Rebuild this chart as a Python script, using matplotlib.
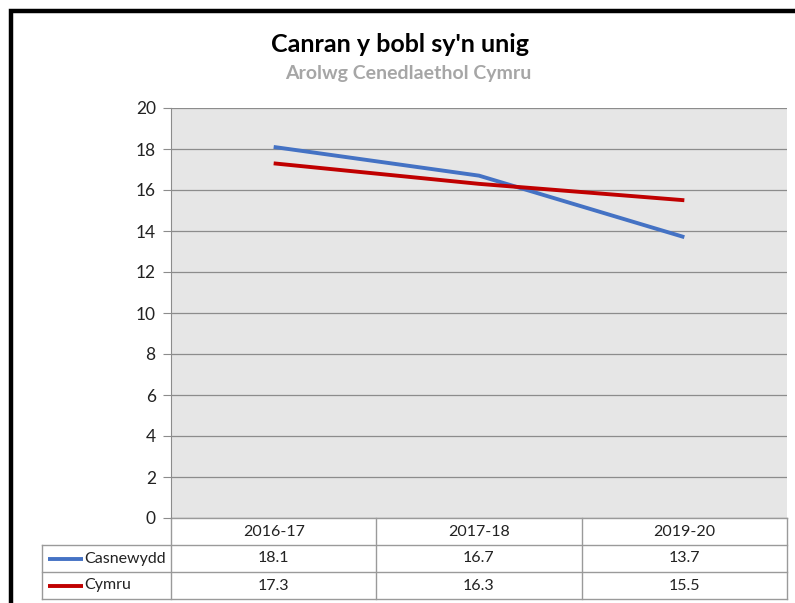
import matplotlib.pyplot as plt
from matplotlib.patches import Rectangle
from matplotlib.transforms import blended_transform_factory

plt.rcParams['font.family'] = ['Lato', 'DejaVu Sans']

years = ['2016-17', '2017-18', '2019-20']
casnewydd = [18.1, 16.7, 13.7]
cymru = [17.3, 16.3, 15.5]
series_names = ['Casnewydd', 'Cymru']
series_colors = ['#4472C4', '#C00000']

W, H = 795, 603
fig = plt.figure(figsize=(W / 100, H / 100), dpi=100)

# outer chart frame (runs off the right and bottom edges)
fig.patches.append(Rectangle((10.5 / W, -0.05), 1.1, 1 - 11.5 / H + 0.05,
                             transform=fig.transFigure, fill=False,
                             edgecolor='black', linewidth=3.2))

left, right, top, bottom = 171, 787, 108, 518
ax = fig.add_axes([left / W, 1 - bottom / H, (right - left) / W, (bottom - top) / H])
ax.set_facecolor('#E6E6E6')

x = list(range(len(years)))
for vals, c in zip([casnewydd, cymru], series_colors):
    ax.plot(x, vals, color=c, linewidth=2.8, solid_capstyle='butt')

ax.set_xlim(-0.5, len(years) - 0.5)
ax.set_ylim(0, 20)
ax.set_yticks(range(0, 21, 2))
ax.set_xticks([])
ax.grid(axis='y', color='#8C8C8C', linewidth=0.9)
ax.set_axisbelow(True)
for s in ['top', 'right', 'bottom']:
    ax.spines[s].set_visible(False)
ax.spines['left'].set_color('#8C8C8C')
ax.tick_params(axis='y', length=6, color='#8C8C8C', labelsize=12.5, pad=5, labelcolor='#222222')

# data table under the axis
tr = blended_transform_factory(ax.transData, ax.transAxes)
row_h = 27 / (bottom - top)
grid_c = '#9A9A9A'
lbl_left = -0.5 - (left - 42) / ((right - left) / len(years))
n_rows = 1 + len(series_names)

# horizontal lines
ax.plot([-0.5, len(years) - 0.5], [0, 0], color=grid_c, lw=1, transform=tr, clip_on=False)
for r in range(1, n_rows + 1):
    ax.plot([lbl_left, len(years) - 0.5], [-r * row_h] * 2, color=grid_c, lw=1,
            transform=tr, clip_on=False)
# vertical lines
for b in range(len(years) + 1):
    ax.plot([b - 0.5] * 2, [0, -n_rows * row_h], color=grid_c, lw=1, transform=tr, clip_on=False)
ax.plot([lbl_left] * 2, [-row_h, -n_rows * row_h], color=grid_c, lw=1, transform=tr, clip_on=False)

fs = 11.5
for i, yr in enumerate(years):
    ax.text(i, -0.5 * row_h, yr, ha='center', va='center', fontsize=fs,
            color='#222222', transform=tr, clip_on=False)
for r, (name, vals, c) in enumerate(zip(series_names, [casnewydd, cymru], series_colors), start=1):
    yc = -(r + 0.5) * row_h
    ax.plot([lbl_left + 0.03, lbl_left + 0.2], [yc, yc], color=c, lw=2.8,
            transform=tr, clip_on=False, solid_capstyle='butt')
    ax.text(lbl_left + 0.205, yc, name, ha='left', va='center', fontsize=fs,
            color='#222222', transform=tr, clip_on=False)
    for i, v in enumerate(vals):
        ax.text(i, yc, f'{v:.1f}', ha='center', va='center', fontsize=fs,
                color='#222222', transform=tr, clip_on=False)

fig.text(400 / W, 1 - 45 / H, "Canran y bobl sy'n unig", ha='center', va='center',
         fontsize=18, fontweight='bold', color='black')
fig.text(408 / W, 1 - 74 / H, 'Arolwg Cenedlaethol Cymru', ha='center', va='center',
         fontsize=14, fontweight='bold', color='#A6A6A6')

fig.savefig('out.png', dpi=100)
